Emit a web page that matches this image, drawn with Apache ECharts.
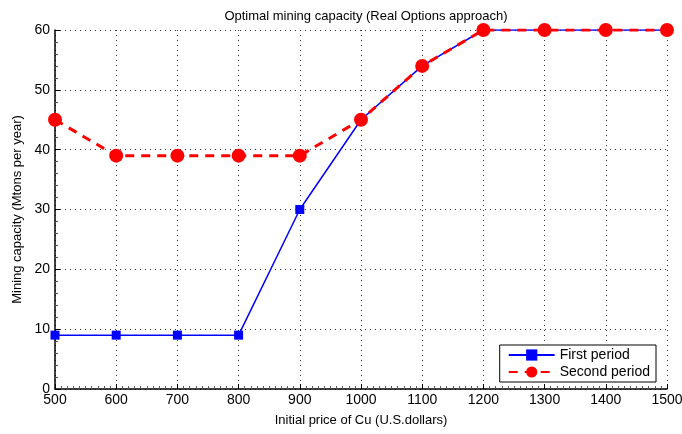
<!DOCTYPE html>
<html><head><meta charset="utf-8">
<script src="https://cdn.jsdelivr.net/npm/echarts@6/dist/echarts.min.js"></script>
<style>html,body{margin:0;padding:0;background:#fff}#c{width:682px;height:434px}</style>
</head><body><div id="c"></div>
<script>
const prices = [500,600,700,800,900,1000,1100,1200,1300,1400,1500];
const firstPeriod = [9,9,9,9,30,45,54,60,60,60,60];
const secondPeriod = [45,39,39,39,39,45,54,60,60,60,60];
const font = 'Liberation Sans, Arial, sans-serif';
const chart = echarts.init(document.getElementById('c'));
const grid = {color:'#333', type:[1,4], width:1};
chart.setOption({
  animation:false,
  title:{text:'Optimal mining capacity (Real Options approach)', left:361, top:5, textAlign:'center',
    textStyle:{fontFamily:font, fontSize:13, fontWeight:'normal', color:'#000'}},
  grid:{left:55, right:15, top:30, bottom:45, containLabel:false, outerBoundsMode:'none'},
  legend:{right:26, bottom:52, orient:'vertical', itemGap:3, itemWidth:46, itemHeight:14,
    backgroundColor:'#fff', borderColor:'#000', borderWidth:1, borderRadius:0, padding:[3,6,3,8],
    textStyle:{fontFamily:font, fontSize:14, color:'#000'},
    data:['First period','Second period']},
  xAxis:{type:'value', min:500, max:1500, interval:100,
    name:'Initial price of Cu (U.S.dollars)', nameLocation:'middle', nameGap:25,
    nameTextStyle:{fontFamily:font, fontSize:13, color:'#000'},
    axisLine:{show:true, lineStyle:{color:'#000', width:1.5}},
    axisTick:{show:true, inside:true, length:5, lineStyle:{color:'#000'}},
    minorTick:{show:true, splitNumber:10, length:3, lineStyle:{color:'#555'}},
    axisLabel:{fontFamily:font, fontSize:14, color:'#000', margin:4, formatter:v=>String(v)},
    splitLine:{show:true, lineStyle:grid}},
  yAxis:{type:'value', min:0, max:60, interval:10,
    name:'Mining capacity (Mtons per year)', nameLocation:'middle', nameGap:27,
    nameTextStyle:{fontFamily:font, fontSize:13, color:'#000'},
    axisLine:{show:true, lineStyle:{color:'#000', width:1.5}},
    axisTick:{show:true, inside:true, length:5, lineStyle:{color:'#000'}},
    minorTick:{show:true, splitNumber:5, length:3, lineStyle:{color:'#555'}},
    axisLabel:{fontFamily:font, fontSize:14, color:'#000', margin:5},
    splitLine:{show:true, lineStyle:grid}},
  series:[
    {name:'First period', type:'line', data:prices.map((p,i)=>[p, firstPeriod[i]]),
      symbol:'rect', symbolSize:9, color:'#0000ff',
      lineStyle:{color:'#0000ff', width:1.5}, itemStyle:{color:'#0000ff'}},
    {name:'Second period', type:'line', data:prices.map((p,i)=>[p, secondPeriod[i]]),
      symbol:'circle', symbolSize:14, color:'#ff0000',
      lineStyle:{color:'#ff0000', width:3, type:[9,7]}, itemStyle:{color:'#ff0000'}}
  ]
});
</script></body></html>
